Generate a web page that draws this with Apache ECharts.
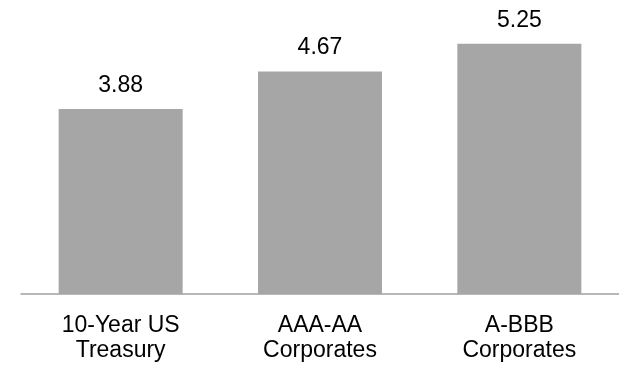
<!DOCTYPE html>
<html>
<head>
<meta charset="utf-8">
<script src="https://cdn.jsdelivr.net/npm/echarts@6/dist/echarts.min.js"></script>
<style>html,body{margin:0;padding:0;background:#fff}#c{width:619px;height:366px}</style>
</head>
<body>
<div id="c"></div>
<script>
var categories = ['10-Year US\nTreasury', 'AAA-AA\nCorporates', 'A-BBB\nCorporates'];
var values = [3.88, 4.67, 5.25];

var chart = echarts.init(document.getElementById('c'), null, {renderer: 'canvas'});
chart.setOption({
  animation: false,
  grid: {left: 21, right: 0, top: 8, bottom: 72},
  xAxis: {
    type: 'category',
    data: categories,
    axisLine: {lineStyle: {color: '#a0a0a0', width: 1.5}},
    axisTick: {show: false},
    axisLabel: {
      color: '#000',
      fontFamily: 'Liberation Sans, Arial, sans-serif',
      fontSize: 23,
      lineHeight: 25,
      margin: 19,
      interval: 0
    }
  },
  yAxis: {
    type: 'value',
    min: 0,
    max: 6,
    show: false,
    splitLine: {show: false}
  },
  series: [{
    type: 'bar',
    data: values,
    barWidth: 124,
    itemStyle: {color: '#a6a6a6'},
    label: {
      show: true,
      position: 'top',
      distance: 12,
      color: '#000',
      fontFamily: 'Liberation Sans, Arial, sans-serif',
      fontSize: 23,
      formatter: function (p) { return p.value.toFixed(2); }
    }
  }]
});
</script>
</body>
</html>
